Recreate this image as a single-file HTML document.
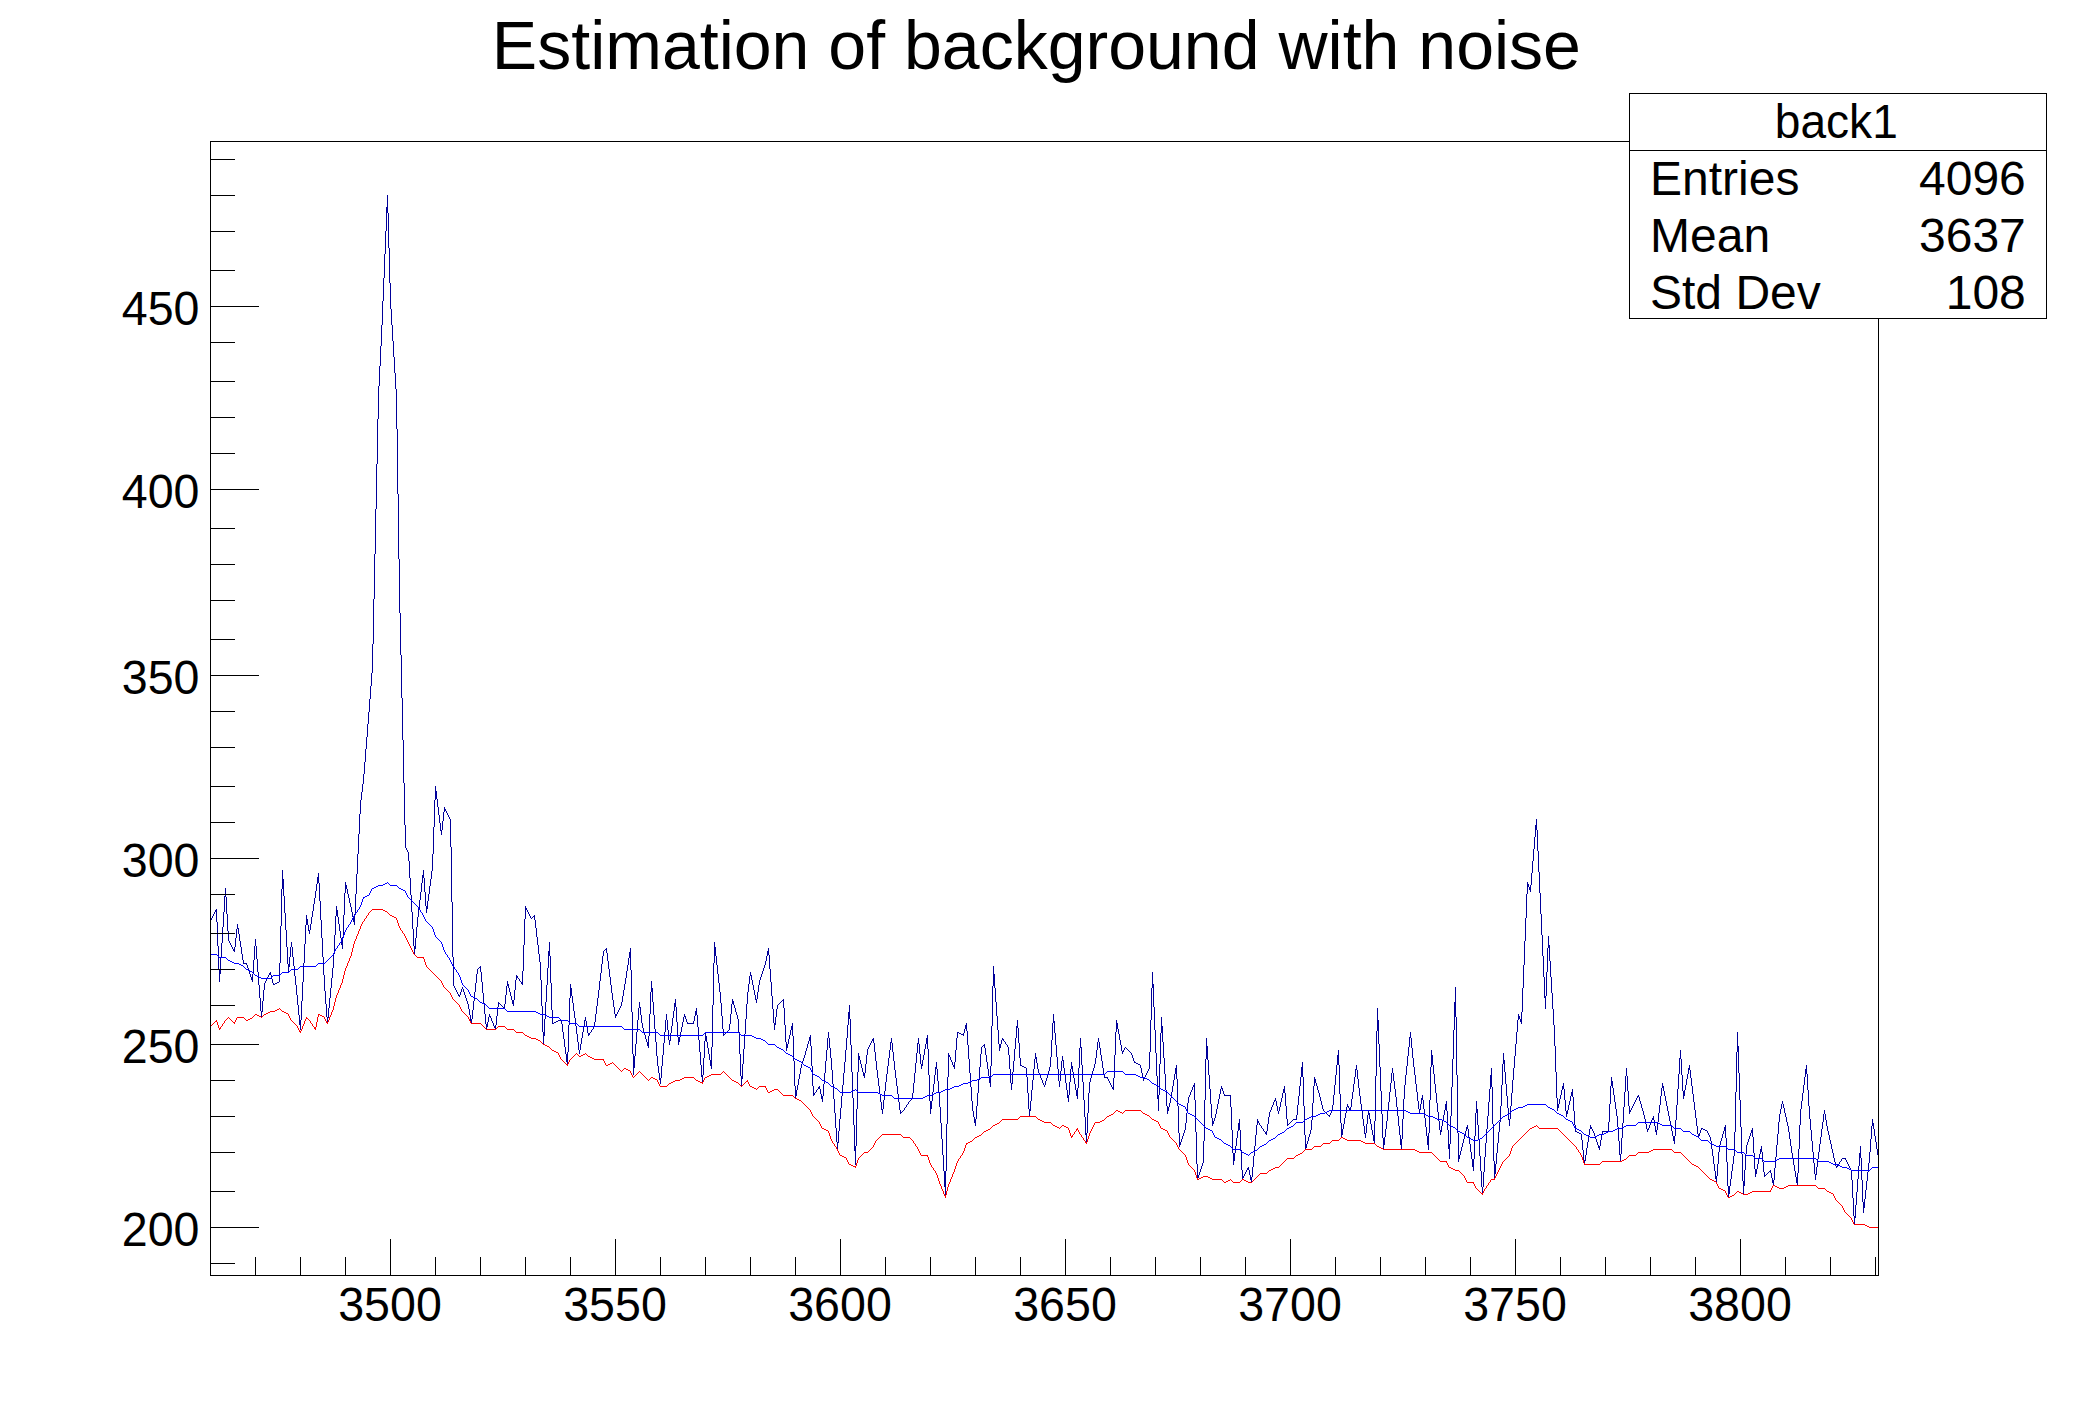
<!DOCTYPE html><html><head><meta charset="utf-8"><title>Estimation of background with noise</title>
<style>html,body{margin:0;padding:0;background:#fff}svg{display:block}text{font-family:"Liberation Sans",sans-serif;fill:#000}</style></head><body>
<svg width="2088" height="1416" viewBox="0 0 2088 1416">
<rect width="2088" height="1416" fill="#fff"/>
<path d="M450.5 819V847M1085.5 1117V1135M1159.5 1064V1095M1286.5 1106V1119M1737.5 1032V1052M384.5 254V278M1552.5 993V1009M1744.5 1170V1186M550.5 956V983M1400.5 1135V1145M300.5 1020V1030M770.5 969V982M1735.5 1092V1132M360.5 800V814M654.5 1015V1029M915.5 1063V1073M1256.5 1125V1135M934.5 1075V1084M1094.5 1064V1068M1342.5 1129V1135M1457.5 1075V1133M791.5 1026V1030M1355.5 1069V1077M992.5 986V1026M837.5 1142V1150M730.5 1014V1024M1432.5 1055V1065M1010.5 1069V1083M1626.5 1068V1076M471.5 1019V1024M366.5 737V749M302.5 982V1001M1816.5 1167V1175M1774.5 1168V1180M929.5 1075V1101M373.5 599V644M216.5 909V922M1047.5 1074V1078M1066.5 1083V1090M1517.5 1020V1032M744.5 1034V1049M1589.5 1129V1135M403.5 740V783M515.5 980V990M642.5 1023V1028M279.5 963V982M408.5 852V861M702.5 1075V1084M1487.5 1116V1129M1082.5 1065V1082M1679.5 1058V1074M1302.5 1062V1077M1739.5 1073V1100M1503.5 1053V1064M1059.5 1081V1087M1549.5 945V961M797.5 1085V1090M957.5 1032V1038M377.5 419V464M1117.5 1023V1029M1862.5 1180V1202M1383.5 1138V1150M1498.5 1132V1143M1658.5 1113V1122M371.5 673V686M1336.5 1065V1075M524.5 919V945M1556.5 1072V1098M1537.5 830V851M398.5 494V559M1690.5 1070V1078M1313.5 1086V1103M1399.5 1126V1135M769.5 955V969M1492.5 1087V1124M848.5 1012V1025M707.5 1042V1048M853.5 1098V1125M1857.5 1179V1192M971.5 1087V1101M267.5 977V979M1232.5 1130V1153M795.5 1086V1099M506.5 986V995M855.5 1146V1165M681.5 1027V1032M1089.5 1082V1093M786.5 1042V1051M357.5 854V874M388.5 213V248M417.5 917V927M598.5 990V998M1165.5 1074V1090M392.5 325V341M1404.5 1085V1099M1486.5 1129V1143M1646.5 1124V1129M457.5 992V994M364.5 762V774M880.5 1094V1102M1678.5 1074V1089M410.5 878V895M993.5 966V986M883.5 1100V1109M1741.5 1127V1154M841.5 1096V1108M1157.5 1076V1099M1699.5 1133V1136M1195.5 1100V1132M1410.5 1032V1038M1396.5 1097V1107M1864.5 1199V1208M475.5 983V992M1380.5 1067V1091M991.5 1026V1066M1077.5 1088V1099M1619.5 1141V1155M834.5 1099V1113M570.5 984V998M1389.5 1092V1102M341.5 938V945M280.5 926V963M984.5 1044V1048M1111.5 1085V1087M1493.5 1124V1161M238.5 928V934M706.5 1036V1042M1069.5 1082V1095M852.5 1072V1098M926.5 1038V1044M1088.5 1093V1113M1234.5 1153V1161M1496.5 1153V1164M664.5 1032V1043M1790.5 1139V1146M1831.5 1144V1149M535.5 920V928M447.5 813V815M581.5 1038V1044M218.5 946V970M259.5 985V998M947.5 1077V1124M1428.5 1133V1150M1084.5 1100V1117M1304.5 1106V1135M1152.5 972V988M1097.5 1042V1050M1584.5 1160V1165M1639.5 1097V1101M1551.5 977V993M945.5 1171V1195M549.5 942V956M898.5 1094V1102M1877.5 1149V1155M650.5 992V1014M956.5 1038V1050M376.5 464V509M359.5 814V834M345.5 882V893M653.5 1002V1015M1484.5 1157V1172M873.5 1038V1043M1525.5 918V941M551.5 983V1010M1599.5 1146V1150M1819.5 1144V1152M1194.5 1083V1100M399.5 559V613M380.5 346V366M327.5 1017V1024M1051.5 1040V1057M1474.5 1136V1159M1634.5 1102V1104M1458.5 1133V1162M1546.5 972V996M1532.5 861V873M1812.5 1141V1152M241.5 947V954M1030.5 1101V1111M460.5 992V995M262.5 1001V1012M826.5 1050V1061M597.5 998V1006M743.5 1049V1064M1455.5 987V1017M574.5 1011V1018M715.5 947V956M425.5 892V906M1738.5 1046V1073M631.5 970V1012M428.5 894V901M736.5 1012V1015M548.5 951V968M856.5 1109V1146M1131.5 1053V1055M694.5 1016V1021M1203.5 1141V1163M1277.5 1106V1111M1861.5 1158V1180M1115.5 1032V1055M358.5 834V854M344.5 893V915M1676.5 1105V1120M1863.5 1202V1213M836.5 1128V1142M435.5 786V800M569.5 998V1025M1541.5 914V935M1615.5 1102V1109M976.5 1106V1119M1009.5 1055V1069M1050.5 1057V1067M1573.5 1097V1111M401.5 655V698M1411.5 1038V1048M948.5 1053V1077M1509.5 1119V1126M1531.5 873V885M221.5 943V958M326.5 1004V1017M1231.5 1107V1130M1668.5 1111V1116M1754.5 1153V1169M854.5 1125V1151M1814.5 1163V1174M721.5 1003V1016M886.5 1074V1082M215.5 910V912M638.5 1008V1020M946.5 1124V1171M1252.5 1167V1177M402.5 698V740M641.5 1015V1023M407.5 850V852M701.5 1065V1077M742.5 1064V1079M1527.5 882V894M453.5 957V986M1444.5 1110V1115M1036.5 1057V1063M860.5 1060V1064M497.5 1007V1016M1154.5 1007V1030M1740.5 1100V1127M284.5 896V913M1156.5 1053V1076M1175.5 1068V1074M839.5 1119V1131M944.5 1171V1187M1689.5 1065V1070M1238.5 1123V1131M608.5 961V969M1513.5 1068V1080M1535.5 825V837M1196.5 1132V1164M1430.5 1067V1100M1149.5 1052V1069M337.5 910V917M1837.5 1165V1167M1566.5 1111V1117M1786.5 1117V1122M1450.5 1116V1144M378.5 386V419M1508.5 1108V1120M1522.5 988V1012M355.5 894V914M386.5 207V231M1045.5 1081V1085M1205.5 1059V1100M1339.5 1065V1094M1017.5 1020V1028M313.5 904V911M1526.5 894V918M1424.5 1109V1118M404.5 783V825M1061.5 1061V1071M1622.5 1123V1138M1300.5 1077V1086M749.5 976V984M1547.5 948V972M913.5 1083V1093M1054.5 1021V1033M1114.5 1055V1078M1656.5 1130V1135M1716.5 1176V1183M1452.5 1059V1087M1075.5 1084V1090M712.5 1005V1047M1209.5 1075V1089M288.5 964V973M670.5 1033V1041M482.5 982V993M1519.5 1016V1019M600.5 973V981M237.5 924V929M1505.5 1072V1084M1086.5 1133V1144M1466.5 1127V1131M258.5 972V985M445.5 809V811M1382.5 1114V1138M1401.5 1139V1150M843.5 1073V1085M1366.5 1124V1133M1621.5 1138V1154M655.5 1029V1042M452.5 902V957M1357.5 1070V1079M1866.5 1181V1190M1315.5 1079V1083M811.5 1046V1066M897.5 1086V1094M938.5 1081V1093M308.5 925V931M1334.5 1085V1095M1158.5 1095V1111M1375.5 1076V1121M1433.5 1065V1074M547.5 968V985M794.5 1061V1086M1391.5 1073V1083M1799.5 1125V1149M343.5 915V937M1174.5 1074V1080M1429.5 1100V1133M711.5 1047V1069M785.5 1025V1042M1482.5 1187V1195M1611.5 1077V1086M568.5 1025V1052M1671.5 1126V1131M1855.5 1205V1218M788.5 1039V1044M829.5 1038V1048M1734.5 1132V1156M400.5 613V655M1811.5 1130V1141M718.5 974V983M451.5 847V902M704.5 1041V1058M759.5 980V985M415.5 938V949M924.5 1049V1055M1204.5 1100V1141M579.5 1050V1054M1303.5 1077V1106M1000.5 1044V1048M1160.5 1033V1064M260.5 998V1011M771.5 982V996M1729.5 1186V1194M917.5 1043V1053M977.5 1093V1106M1720.5 1141V1145M713.5 963V1005M424.5 878V892M732.5 999V1004M1456.5 1017V1075M1736.5 1052V1092M397.5 429V494M473.5 1001V1010M440.5 823V831M383.5 278V301M546.5 985V1002M1859.5 1153V1166M1523.5 965V988M972.5 1101V1111M1206.5 1038V1059M810.5 1035V1046M1352.5 1092V1099M1875.5 1136V1142M567.5 1052V1066M1472.5 1159V1167M317.5 877V884M1488.5 1102V1116M662.5 1055V1066M1667.5 1106V1111M374.5 554V599M866.5 1055V1064M1449.5 1144V1159M1564.5 1089V1100M1555.5 1046V1072M1500.5 1106V1122M1586.5 1148V1155M1338.5 1050V1065M1379.5 1044V1067M1453.5 1030V1059M1585.5 1155V1161M1659.5 1105V1113M1015.5 1038V1049M652.5 988V1002M1079.5 1048V1068M1340.5 1094V1123M674.5 1003V1011M1298.5 1096V1105M849.5 1005V1019M954.5 1062V1069M1155.5 1030V1053M747.5 992V1004M893.5 1052V1061M1201.5 1166V1169M1798.5 1149V1173M953.5 1065V1067M387.5 195V213M328.5 1008V1018M851.5 1045V1072M634.5 1056V1068M975.5 1119V1126M419.5 900V909M1511.5 1093V1106M1533.5 849V861M1208.5 1060V1075M523.5 945V971M220.5 958V974M1680.5 1050V1059M544.5 1019V1036M714.5 942V963M1363.5 1119V1126M1853.5 1198V1216M411.5 895V912M824.5 1073V1084M254.5 946V960M414.5 946V955M1742.5 1154V1181M1420.5 1104V1110M1745.5 1154V1170M1101.5 1055V1061M1442.5 1121V1126M1557.5 1098V1111M1624.5 1092V1107M1643.5 1111V1115M858.5 1053V1072M1381.5 1091V1114M696.5 1008V1015M333.5 954V968M1554.5 1025V1046M1633.5 1104V1106M382.5 301V325M1872.5 1119V1126M772.5 996V1009M268.5 975V977M629.5 952V958M937.5 1069V1081M367.5 724V737M969.5 1059V1073M224.5 896V912M375.5 509V554M432.5 854V871M812.5 1066V1086M1813.5 1152V1163M1013.5 1061V1072M1510.5 1106V1119M710.5 1060V1066M784.5 1008V1025M335.5 916V935M481.5 972V982M1064.5 1068V1075M219.5 970V982M1733.5 1156V1164M1369.5 1113V1119M312.5 911V917M738.5 1019V1032M1362.5 1111V1119M332.5 968V978M1616.5 1109V1116M790.5 1030V1035M223.5 912V927M828.5 1032V1038M1723.5 1131V1134M480.5 966V972M1464.5 1135V1139M677.5 1022V1037M1177.5 1079V1106M593.5 1027V1029M271.5 975V979M609.5 969V977M850.5 1019V1045M1471.5 1152V1159M1065.5 1075V1083M651.5 981V992M1459.5 1155V1159M1553.5 1009V1025M1150.5 1020V1052M892.5 1043V1052M281.5 889V926M1870.5 1139V1152M789.5 1035V1039M1713.5 1156V1164M1803.5 1085V1093M1627.5 1076V1091M537.5 937V945M845.5 1050V1062M1662.5 1083V1088M514.5 990V1000M995.5 988V1002M439.5 815V823M442.5 821V830M287.5 947V964M1319.5 1093V1097M229.5 941V943M1395.5 1089V1097M421.5 883V892M305.5 925V944M434.5 800V827M928.5 1049V1075M1451.5 1087V1116M243.5 960V964M1470.5 1144V1152M349.5 898V903M261.5 1011V1018M1868.5 1163V1172M396.5 389V429M217.5 922V946M1122.5 1051V1054M1361.5 1104V1111M840.5 1108V1119M955.5 1050V1062M1134.5 1061V1063M323.5 957V975M1467.5 1125V1129M1145.5 1075V1077M1731.5 1171V1179M391.5 309V325M659.5 1073V1080M1443.5 1115V1121M362.5 784V792M1038.5 1069V1073M1244.5 1174V1176M941.5 1123V1139M894.5 1061V1070M1376.5 1031V1076M1439.5 1121V1130M368.5 712V724M222.5 927V943M1311.5 1120V1130M648.5 1036V1048M339.5 924V931M485.5 1014V1024M1494.5 1161V1180M1788.5 1126V1132M526.5 908V910M792.5 1023V1036M1697.5 1126V1134M630.5 948V970M693.5 1021V1024M813.5 1086V1096M1830.5 1140V1144M1144.5 1077V1079M354.5 914V925M1465.5 1131V1135M431.5 871V879M1377.5 1008V1031M885.5 1082V1091M1771.5 1173V1178M563.5 1032V1039M1501.5 1085V1106M1283.5 1089V1093M1417.5 1092V1101M899.5 1102V1110M1394.5 1081V1089M857.5 1072V1109M1776.5 1145V1157M1687.5 1074V1079M787.5 1044V1048M1489.5 1089V1102M1708.5 1133V1135M720.5 992V1003M1028.5 1093V1109M1188.5 1097V1103M752.5 980V985M390.5 283V309M1461.5 1147V1151M1240.5 1130V1150M1460.5 1151V1155M1276.5 1101V1106M329.5 998V1008M282.5 870V889M342.5 937V949M433.5 827V854M1271.5 1107V1110M541.5 980V1006M1446.5 1101V1111M859.5 1056V1060M430.5 879V886M1620.5 1154V1162M1694.5 1102V1110M835.5 1113V1128M613.5 1000V1007M632.5 1012V1054M1476.5 1101V1113M1636.5 1098V1100M1851.5 1170V1180M1835.5 1162V1166M731.5 1004V1014M1259.5 1123V1125M436.5 791V799M1515.5 1044V1056M895.5 1070V1078M684.5 1014V1017M1140.5 1065V1068M1207.5 1046V1060M311.5 917V924M1142.5 1073V1078M1186.5 1113V1123M1783.5 1104V1108M307.5 919V925M978.5 1080V1093M1112.5 1087V1089M1239.5 1119V1130M1151.5 988V1020M649.5 1014V1036M1695.5 1110V1118M602.5 956V964M1672.5 1131V1136M719.5 983V992M1040.5 1075V1078M1387.5 1111V1121M1681.5 1059V1075M1581.5 1134V1140M370.5 686V699M1440.5 1130V1135M1778.5 1122V1134M1172.5 1086V1092M1796.5 1177V1183M623.5 990V996M1748.5 1139V1142M521.5 982V984M1852.5 1180V1198M1502.5 1064V1085M882.5 1109V1114M1241.5 1150V1170M321.5 920V938M356.5 874V894M1002.5 1038V1040M1167.5 1106V1114M1282.5 1093V1098M803.5 1058V1061M939.5 1093V1107M1462.5 1143V1147M289.5 957V967M830.5 1048V1058M467.5 1001V1004M504.5 1004V1009M622.5 996V1002M1481.5 1171V1187M1034.5 1059V1069M1349.5 1108V1110M1249.5 1170V1175M1846.5 1160V1162M825.5 1061V1073M682.5 1022V1027M1849.5 1166V1168M1402.5 1119V1139M496.5 1016V1025M802.5 1061V1064M614.5 1007V1014M210.5 920V922M489.5 1014V1017M1237.5 1131V1138M1806.5 1065V1074M1795.5 1171V1177M587.5 1027V1033M1026.5 1068V1077M1406.5 1066V1075M1309.5 1134V1137M1341.5 1123V1138M582.5 1032V1038M697.5 1015V1027M1385.5 1129V1137M295.5 976V985M1179.5 1133V1147M807.5 1044V1048M239.5 934V941M1595.5 1136V1139M1359.5 1088V1096M871.5 1041V1043M1674.5 1136V1144M1572.5 1089V1097M1236.5 1138V1146M458.5 994V996M1280.5 1102V1107M232.5 947V949M875.5 1052V1061M1761.5 1146V1152M754.5 990V995M757.5 992V999M657.5 1056V1066M1821.5 1129V1137M1416.5 1084V1092M1351.5 1099V1107M1791.5 1146V1153M1210.5 1089V1104M981.5 1047V1054M805.5 1051V1055M1347.5 1104V1107M1847.5 1162V1164M740.5 1054V1076M1337.5 1055V1065M1423.5 1100V1109M1037.5 1063V1069M1763.5 1162V1172M673.5 1011V1018M1071.5 1062V1069M1628.5 1091V1106M888.5 1058V1066M538.5 945V954M617.5 1012V1014M923.5 1055V1060M800.5 1068V1074M1403.5 1099V1119M816.5 1090V1092M672.5 1018V1026M989.5 1076V1083M1709.5 1135V1137M1728.5 1186V1198M1692.5 1086V1094M965.5 1025V1029M808.5 1041V1044M1685.5 1085V1090M822.5 1096V1102M1055.5 1033V1045M1675.5 1120V1136M1350.5 1107V1111M1490.5 1075V1089M315.5 891V898M861.5 1064V1068M394.5 357V373M1661.5 1088V1096M733.5 1001V1005M409.5 861V878M318.5 873V883M1712.5 1149V1156M1368.5 1110V1115M921.5 1064V1069M1141.5 1068V1073M427.5 901V909M304.5 944V963M1730.5 1179V1186M1251.5 1177V1183M1823.5 1114V1122M1434.5 1074V1084M936.5 1062V1069M270.5 972V975M575.5 1018V1026M492.5 1021V1023M1751.5 1130V1133M320.5 901V920M1827.5 1126V1131M820.5 1089V1094M773.5 1009V1023M286.5 930V947M426.5 906V913M1170.5 1098V1103M1591.5 1127V1129M1255.5 1135V1146M1067.5 1090V1098M1306.5 1144V1148M739.5 1032V1054M1118.5 1029V1034M1053.5 1014V1023M463.5 989V992M1435.5 1084V1093M1750.5 1133V1136M1682.5 1075V1091M1095.5 1058V1064M1018.5 1028V1043M974.5 1117V1123M1409.5 1037V1047M316.5 884V891M319.5 883V901M1784.5 1108V1113M1247.5 1168V1170M1567.5 1110V1114M620.5 1006V1008M1242.5 1170V1180M1677.5 1089V1105M1332.5 1105V1111M666.5 1014V1020M303.5 963V982M793.5 1036V1061M1631.5 1108V1110M1124.5 1048V1050M996.5 1002V1016M1087.5 1113V1133M1425.5 1118V1127M876.5 1061V1070M1431.5 1050V1067M1147.5 1071V1073M1108.5 1079V1081M379.5 366V386M353.5 917V922M1528.5 884V887M1623.5 1107V1123M1364.5 1126V1134M1176.5 1065V1079M1596.5 1139V1142M1003.5 1039V1041M1191.5 1090V1092M1787.5 1122V1126M1873.5 1123V1129M1588.5 1135V1142M1563.5 1083V1089M679.5 1037V1042M753.5 985V990M1181.5 1139V1142M1171.5 1092V1098M446.5 811V813M498.5 1002V1007M449.5 817V819M296.5 985V995M509.5 988V992M1062.5 1056V1061M564.5 1039V1047M1587.5 1142V1148M441.5 830V835M1296.5 1115V1120M420.5 892V900M1330.5 1113V1115M985.5 1048V1055M1367.5 1115V1124M756.5 999V1003M527.5 910V912M1746.5 1145V1154M703.5 1058V1075M1758.5 1159V1164M1617.5 1116V1127M1772.5 1178V1183M1644.5 1115V1119M1184.5 1130V1133M591.5 1030V1032M265.5 981V983M966.5 1023V1031M1521.5 1012V1024M1060.5 1071V1081M1602.5 1131V1134M437.5 799V807M1373.5 1135V1141M643.5 1028V1032M338.5 917V924M461.5 989V992M699.5 1040V1052M454.5 986V988M1032.5 1080V1090M1560.5 1095V1099M927.5 1035V1049M1832.5 1149V1153M1312.5 1103V1120M1169.5 1103V1107M1168.5 1107V1111M1388.5 1102V1111M1250.5 1175V1180M1640.5 1101V1104M413.5 929V946M1756.5 1169V1174M513.5 1000V1006M242.5 954V960M1809.5 1106V1119M716.5 956V965M922.5 1060V1066M1445.5 1104V1110M737.5 1015V1019M249.5 971V974M952.5 1062V1065M676.5 1007V1022M412.5 912V929M530.5 916V918M627.5 965V971M389.5 248V283M1421.5 1098V1104M1224.5 1094V1096M1360.5 1096V1104M675.5 999V1007M881.5 1102V1110M916.5 1053V1063M890.5 1042V1050M1841.5 1159V1161M594.5 1022V1027M767.5 951V956M832.5 1070V1084M1198.5 1175V1178M1211.5 1104V1118M1808.5 1090V1106M1214.5 1118V1121M1267.5 1124V1131M1153.5 984V1007M1817.5 1159V1167M762.5 971V974M1468.5 1129V1137M213.5 914V916M660.5 1078V1084M1193.5 1085V1087M1090.5 1078V1082M625.5 978V984M1504.5 1060V1072M884.5 1091V1100M1222.5 1088V1091M1865.5 1190V1199M1078.5 1068V1088M1807.5 1074V1090M1187.5 1103V1113M291.5 942V947M1793.5 1159V1165M1320.5 1097V1101M615.5 1014V1018M656.5 1042V1056M633.5 1054V1075M765.5 961V965M1732.5 1164V1171M1253.5 1156V1167M1263.5 1129V1131M1093.5 1068V1071M1412.5 1048V1058M1392.5 1068V1073M1815.5 1174V1180M1850.5 1168V1170M540.5 962V980M584.5 1020V1026M864.5 1073V1078M1301.5 1067V1077M1727.5 1162V1186M1116.5 1020V1032M637.5 1020V1032M1454.5 1002V1030M1178.5 1106V1133M493.5 1023V1026M1076.5 1090V1096M1543.5 956V977M967.5 1031V1045M309.5 930V934M474.5 992V1001M330.5 988V998M1538.5 851V872M1353.5 1084V1092M1691.5 1078V1086M930.5 1101V1114M233.5 949V951M1436.5 1093V1103M214.5 912V914M1848.5 1164V1166M1019.5 1043V1058M334.5 935V954M1413.5 1058V1067M1542.5 935V956M746.5 1004V1019M1651.5 1120V1123M1102.5 1061V1068M1822.5 1122V1129M1343.5 1124V1129M776.5 1009V1017M285.5 913V930M1109.5 1081V1083M1370.5 1119V1124M1590.5 1125V1129M1405.5 1075V1085M1479.5 1140V1156M1673.5 1136V1141M646.5 1039V1042M1044.5 1085V1087M231.5 945V947M1162.5 1026V1042M443.5 812V821M1869.5 1152V1163M297.5 995V1005M429.5 886V894M1514.5 1056V1068M774.5 1023V1030M1012.5 1072V1084M1688.5 1068V1074M542.5 1006V1032M1042.5 1080V1083M1618.5 1127V1141M588.5 1033V1036M764.5 965V968M1789.5 1132V1139M534.5 915V920M925.5 1044V1049M1011.5 1083V1090M1161.5 1017V1033M1664.5 1091V1096M385.5 231V254M1860.5 1146V1158M1820.5 1137V1144M1029.5 1109V1117M700.5 1052V1065M994.5 974V988M283.5 879V896M1397.5 1107V1116M545.5 1002V1019M980.5 1054V1067M1033.5 1069V1080M487.5 1022V1027M405.5 825V848M896.5 1078V1086M1593.5 1131V1133M1384.5 1137V1145M1317.5 1086V1090M1597.5 1142V1145M1173.5 1080V1086M1696.5 1118V1126M870.5 1043V1045M847.5 1025V1038M1608.5 1122V1132M565.5 1047V1054M571.5 988V996M1759.5 1154V1159M949.5 1055V1057M263.5 990V1001M483.5 993V1003M1506.5 1084V1096M510.5 992V996M422.5 875V883M1418.5 1101V1109M869.5 1045V1047M596.5 1006V1014M973.5 1111V1117M306.5 915V925M1653.5 1116V1120M912.5 1093V1099M963.5 1033V1036M1083.5 1082V1100M1524.5 941V965M1777.5 1134V1145M1333.5 1095V1105M240.5 941V947M708.5 1048V1054M1119.5 1034V1040M900.5 1110V1114M1719.5 1145V1152M661.5 1066V1078M635.5 1044V1056M1714.5 1164V1171M246.5 963V965M1797.5 1173V1186M372.5 644V673M669.5 1040V1045M722.5 1016V1029M1613.5 1088V1095M465.5 995V998M990.5 1066V1087M823.5 1084V1096M1520.5 1019V1022M346.5 885V889M1839.5 1162V1164M1212.5 1118V1126M1323.5 1109V1111M1762.5 1152V1162M628.5 958V965M1269.5 1112V1117M1792.5 1153V1159M1530.5 885V892M667.5 1020V1030M576.5 1026V1034M891.5 1038V1043M236.5 929V938M1374.5 1121V1144M1189.5 1095V1097M1080.5 1038V1048M1219.5 1094V1099M469.5 1009V1015M1272.5 1105V1107M1610.5 1086V1104M640.5 1007V1015M1163.5 1042V1058M393.5 341V357M1781.5 1104V1109M1637.5 1096V1098M552.5 1010V1024M1878.5 1155V1159M253.5 960V974M519.5 979V981M1426.5 1127V1136M877.5 1070V1078M577.5 1034V1042M507.5 981V986M933.5 1084V1092M1574.5 1111V1125M842.5 1085V1096M1365.5 1133V1138M1874.5 1129V1136M1571.5 1092V1096M1749.5 1136V1139M522.5 971V985M543.5 1032V1045M1448.5 1130V1149M1052.5 1023V1040M1217.5 1104V1109M1346.5 1107V1113M256.5 946V959M1802.5 1093V1101M1020.5 1058V1066M490.5 1016V1018M1570.5 1096V1101M1473.5 1159V1171M986.5 1055V1062M683.5 1017V1022M1371.5 1124V1130M1824.5 1110V1114M1345.5 1113V1118M211.5 918V920M1536.5 819V830M1398.5 1116V1126M1257.5 1119V1125M1407.5 1056V1066M1310.5 1130V1134M1645.5 1119V1124M456.5 990V992M678.5 1037V1045M611.5 985V993M1099.5 1042V1048M872.5 1039V1041M647.5 1042V1046M298.5 1005V1015M1726.5 1138V1162M1582.5 1140V1150M1512.5 1080V1093M1753.5 1137V1153M1568.5 1105V1110M406.5 848V850M225.5 888V897M607.5 953V961M484.5 1003V1014M361.5 792V800M350.5 903V907M940.5 1107V1123M1775.5 1157V1168M264.5 983V990M1475.5 1113V1136M1810.5 1119V1130M444.5 807V812M1826.5 1120V1126M1743.5 1181V1195M227.5 914V931M1858.5 1166V1179M1192.5 1087V1090M418.5 909V917M1717.5 1164V1176M324.5 975V991M365.5 749V762M1752.5 1128V1137M680.5 1032V1037M1441.5 1126V1132M1275.5 1098V1101M942.5 1139V1155M1497.5 1143V1153M1856.5 1192V1205M416.5 927V938M1559.5 1099V1104M1316.5 1083V1086M906.5 1105V1107M314.5 898V904M1642.5 1108V1111M1378.5 1020V1044M230.5 943V945M1274.5 1100V1102M970.5 1073V1087M1091.5 1075V1078M336.5 906V916M1447.5 1111V1130M1185.5 1123V1130M671.5 1026V1033M1648.5 1128V1130M1518.5 1014V1020M1016.5 1026V1038M1483.5 1172V1187M1469.5 1137V1144M1166.5 1090V1106M1540.5 893V914M511.5 996V1000M1390.5 1083V1092M920.5 1054V1064M1561.5 1090V1095M1299.5 1086V1096M1133.5 1058V1061M950.5 1057V1060M603.5 951V956M621.5 1002V1006M292.5 947V957M1438.5 1112V1121M1794.5 1165V1171M586.5 1021V1027M322.5 938V957M257.5 959V972M1183.5 1133V1136M472.5 1010V1019M381.5 325V346M1539.5 872V893M685.5 1016V1019M750.5 972V976M1393.5 1073V1081M914.5 1073V1083M1120.5 1040V1045M1182.5 1136V1139M819.5 1086V1089M1235.5 1146V1153M668.5 1030V1040M1027.5 1077V1093M580.5 1044V1050M1485.5 1143V1157M698.5 1027V1040M918.5 1038V1044M1612.5 1081V1088M464.5 992V995M1665.5 1096V1101M293.5 957V966M1258.5 1121V1123M887.5 1066V1074M1081.5 1047V1065M561.5 1020V1024M299.5 1015V1025M1558.5 1104V1108M1164.5 1058V1074M644.5 1032V1035M1414.5 1067V1075M266.5 979V981M935.5 1067V1075M1867.5 1172V1181M1550.5 961V977M1800.5 1109V1125M798.5 1079V1085M867.5 1049V1055M1804.5 1077V1085M943.5 1155V1171M1348.5 1106V1108M862.5 1068V1072M347.5 889V894M1056.5 1045V1057M1836.5 1166V1168M1544.5 977V998M468.5 1004V1009M665.5 1020V1032M301.5 1001V1020M395.5 373V389M1356.5 1065V1070M528.5 912V914M745.5 1019V1034M1722.5 1134V1138M1463.5 1139V1143M796.5 1090V1096M1654.5 1120V1126M1657.5 1122V1130M1254.5 1146V1156M1650.5 1123V1125M1710.5 1137V1141M476.5 974V983M1478.5 1125V1140M814.5 1093V1095M1600.5 1140V1146M1721.5 1138V1141M1408.5 1047V1056M709.5 1054V1060M827.5 1038V1050M695.5 1011V1016M363.5 774V784M878.5 1078V1086M1199.5 1172V1175M1072.5 1066V1072M1495.5 1164V1174M273.5 983V985M226.5 897V914M1534.5 837V849M1724.5 1127V1131M1529.5 887V890M997.5 1016V1030M1305.5 1135V1150M1321.5 1101V1105M610.5 977V985M325.5 991V1004M1230.5 1095V1107M1871.5 1126V1139M566.5 1054V1062M1202.5 1163V1166M572.5 996V1003M1507.5 1096V1108M987.5 1062V1069M1516.5 1032V1044M1419.5 1109V1114M491.5 1018V1021M1070.5 1069V1082M1048.5 1071V1074M865.5 1064V1073M1773.5 1180V1186M340.5 931V938M1828.5 1131V1135M1031.5 1090V1101M846.5 1038V1050M1635.5 1100V1102M573.5 1003V1011M1096.5 1050V1058M1035.5 1053V1059M686.5 1019V1022M1785.5 1113V1117M1641.5 1104V1108M1477.5 1109V1125M1715.5 1171V1179M1386.5 1121V1129M1261.5 1126V1128M1057.5 1057V1069M250.5 974V977M1545.5 996V1009M1113.5 1078V1090M1284.5 1086V1093M599.5 981V990M508.5 984V988M723.5 1029V1036M455.5 988V990M1614.5 1095V1102M889.5 1050V1058M1609.5 1104V1122M1063.5 1060V1068M494.5 1026V1028M1132.5 1055V1058M831.5 1058V1070M1146.5 1073V1075M729.5 1024V1030M585.5 1017V1021M1825.5 1114V1120M1779.5 1114V1122M1335.5 1075V1085M624.5 984V990M833.5 1084V1099M369.5 699V712M663.5 1043V1055M998.5 1030V1044M290.5 947V957M1281.5 1098V1102M505.5 995V1004M931.5 1101V1109M470.5 1015V1021M618.5 1010V1012M741.5 1076V1087M768.5 948V955M583.5 1026V1032M539.5 954V962M351.5 907V912M516.5 975V980M636.5 1032V1044M525.5 906V919M1427.5 1136V1145M578.5 1042V1050M1575.5 1125V1132M1223.5 1091V1094M1279.5 1107V1111M1693.5 1094V1102M1297.5 1105V1115M1197.5 1164V1180M968.5 1045V1059M801.5 1064V1068M639.5 1002V1008M1074.5 1078V1084M1278.5 1111V1114M1308.5 1137V1141M1669.5 1116V1121M1354.5 1077V1084M1307.5 1141V1144M612.5 993V1000M1638.5 1095V1097M1491.5 1068V1087M804.5 1055V1058M1068.5 1095V1102M619.5 1008V1010M1100.5 1048V1055M348.5 894V898M1480.5 1156V1171M748.5 984V992M1630.5 1110V1112M1123.5 1050V1052M799.5 1074V1079M1583.5 1150V1160M1683.5 1091V1099M658.5 1066V1073M1757.5 1164V1169M1854.5 1216V1225M838.5 1131V1143M1655.5 1126V1132M1148.5 1069V1071M1805.5 1069V1077M1629.5 1106V1114M844.5 1062V1073M1180.5 1142V1145M536.5 928V937M228.5 931V941M751.5 975V980M272.5 979V983M1686.5 1079V1085M806.5 1048V1051M1625.5 1076V1092M1014.5 1049V1061M1755.5 1169V1177M477.5 969V974M979.5 1067V1080M310.5 924V930M1039.5 1073V1075M331.5 978V988M1043.5 1083V1085M1698.5 1134V1138M705.5 1032V1041M1684.5 1090V1096M1725.5 1125V1138M1834.5 1158V1162M1285.5 1093V1106M459.5 995V997M1782.5 1101V1104M1565.5 1100V1111M1248.5 1167V1170M1845.5 1158V1160M595.5 1014V1022M863.5 1072V1076M717.5 965V974M1499.5 1122V1132M626.5 971V978M1314.5 1077V1086M1594.5 1133V1136M1318.5 1090V1093M874.5 1043V1052M1829.5 1135V1140M1121.5 1045V1051M1218.5 1099V1104M1718.5 1152V1164M1780.5 1109V1114M919.5 1044V1054M1666.5 1101V1106M294.5 966V976M1058.5 1069V1081M606.5 948V953M562.5 1024V1032M212.5 916V918M601.5 964V973M1415.5 1075V1084M1422.5 1095V1100M1216.5 1109V1114M1008.5 1047V1055M1215.5 1114V1118M1701.5 1128V1130M247.5 965V968M1143.5 1078V1081M1601.5 1134V1140M423.5 870V878M462.5 987V989M235.5 938V947M758.5 985V992M999.5 1044V1051M1700.5 1130V1133M1711.5 1141V1149M1098.5 1038V1042M1200.5 1169V1172M783.5 999V1008M234.5 947V952M766.5 956V961M1632.5 1106V1108M1213.5 1121V1124M1266.5 1131V1135M352.5 912V917M252.5 974V982M775.5 1017V1025M1548.5 936V948M1437.5 1103V1112M761.5 974V977M1046.5 1078V1081M1358.5 1079V1088M879.5 1086V1094M1073.5 1072V1078M932.5 1092V1101M1649.5 1125V1128M821.5 1094V1099M1876.5 1142V1149M760.5 977V980M1233.5 1153V1165M1001.5 1040V1044M1818.5 1152V1159M1801.5 1101V1109M1322.5 1105V1109M255.5 939V946M755.5 995V1000M1660.5 1096V1105M1049.5 1067V1071M1764.5 1172V1177M988.5 1069V1076M1344.5 1118V1124M763.5 968V971M616.5 1014V1016M734.5 1005V1008M248.5 968V971M486.5 1024V1030M1104.5 1074V1078M1372.5 1130V1135M1747.5 1142V1145M438.5 807V815M904.5 1108V1110M868.5 1047V1049M1833.5 1153V1158M269.5 973V975M1652.5 1118V1120M488.5 1017V1022M1670.5 1121V1126M1760.5 1149V1154M1246.5 1170V1172M1007.5 1045V1047M1245.5 1172V1174M1107.5 1077V1079M1005.5 1042V1044M512.5 1000V1004M1329.5 1115V1117M951.5 1060V1062M1268.5 1117V1124M448.5 815V817M589.5 1033V1035M809.5 1037V1041M1270.5 1110V1112M645.5 1035V1039M1221.5 1086V1089M1103.5 1068V1074M964.5 1029V1033M1110.5 1083V1085M1220.5 1089V1094M1287.5 1119V1126M495.5 1025V1030M1647.5 1129V1132M529.5 914V916M1663.5 1086V1091M1770.5 1170V1173M1265.5 1132V1134M1598.5 1145V1148M1190.5 1092V1095M1273.5 1102V1105M1569.5 1101V1105M1041.5 1078V1080M777.5 1005V1009M735.5 1008V1012M1707.5 1131V1133M1331.5 1111V1113M1092.5 1071V1075M687.5 1022V1024M1592.5 1129V1131M818.5 1087V1089M251.5 977V980M908.5 1102V1104M466.5 998V1001M1562.5 1086V1090M517.5 976V978M1243.5 1176V1178M1293 1119.5H1296M553 1023.5H554M688 1023.5H693M503 1007.5H504M590 1032.5H591M726 1032.5H727M958 1032.5H959M275 983.5H277M1838 1164.5H1839M1105 1077.5H1107M1024 1067.5H1026M1225 1095.5H1230M1579 1133.5H1581M725 1033.5H726M959 1033.5H961M277 982.5H279M1130 1052.5H1131M1138 1064.5H1140M782 1000.5H783M1126 1048.5H1127M554 1022.5H556M1705 1130.5H1707M501 1005.5H502M244 963.5H246M1021 1065.5H1022M901 1112.5H902M1325 1112.5H1326M902 1111.5H903M1324 1111.5H1325M982 1046.5H983M1264 1131.5H1265M1576 1131.5H1577M1603 1131.5H1608M1022 1066.5H1024M556 1021.5H558M1135 1062.5H1136M558 1020.5H561M520 981.5H521M1128 1050.5H1129M479 967.5H480M1577 1132.5H1579M1840 1161.5H1841M478 968.5H479M1136 1063.5H1138M815 1092.5H816M1703 1129.5H1705M592 1029.5H593M1260 1125.5H1261M1006 1044.5H1007M531 918.5H532M905 1107.5H906M907 1104.5H908M605 949.5H606M274 984.5H275M780 1002.5H781M781 1001.5H782M604 950.5H605M500 1004.5H501M778 1004.5H779M499 1003.5H500M779 1003.5H780M1768 1172.5H1769M1769 1171.5H1770M724 1034.5H725M961 1034.5H963M1842 1158.5H1845M1004 1041.5H1005M1326 1113.5H1327M1292 1120.5H1293M1262 1128.5H1263M1702 1128.5H1703M817 1089.5H818M1766 1174.5H1767M1327 1114.5H1328M911 1099.5H912M1291 1121.5H1292M909 1101.5H910M1289 1123.5H1290M1290 1122.5H1291M1328 1115.5H1329M1288 1124.5H1289M1129 1051.5H1130M533 916.5H534M728 1030.5H729M1125 1047.5H1126M532 917.5H533M1767 1173.5H1768M903 1110.5H904M983 1045.5H984M727 1031.5H728M1765 1175.5H1766M910 1100.5H911M502 1006.5H503M1127 1049.5H1128M518 978.5H519" fill="none" stroke="#000099" stroke-width="1" shape-rendering="crispEdges"/>
<path d="M364.5 919V921M353.5 944V948M217.5 1022V1025M954.5 1169V1172M360.5 926V929M930.5 1163V1165M1473.5 1182V1184M339.5 988V990M931.5 1165V1167M1474.5 1184V1186M1466.5 1180V1182M1196.5 1175V1178M412.5 950V952M424.5 959V962M958.5 1159V1161M1717.5 1184V1186M1091.5 1129V1131M821.5 1126V1128M344.5 971V975M1509.5 1154V1156M304.5 1021V1024M351.5 952V956M945.5 1195V1198M765.5 1086V1088M1079.5 1132V1134M359.5 929V931M603.5 1059V1061M1581.5 1155V1157M1185.5 1155V1157M338.5 990V993M1500.5 1166V1168M405.5 936V938M948.5 1184V1187M335.5 998V1002M957.5 1161V1163M343.5 975V979M342.5 979V983M828.5 1131V1133M459.5 1005V1007M460.5 1007V1009M1488.5 1183V1185M219.5 1028V1030M329.5 1017V1020M929.5 1160V1163M298.5 1028V1030M704.5 1078V1080M299.5 1030V1032M1833.5 1194V1196M1071.5 1136V1138M1843.5 1208V1210M347.5 963V966M947.5 1187V1191M1195.5 1172V1175M234.5 1022V1024M940.5 1184V1186M1495.5 1176V1178M354.5 941V944M366.5 916V918M956.5 1163V1166M955.5 1166V1169M222.5 1024V1026M1078.5 1130V1132M567.5 1064V1066M857.5 1160V1163M1582.5 1157V1160M703.5 1080V1082M1510.5 1151V1154M946.5 1191V1195M1494.5 1178V1180M966.5 1143V1145M341.5 983V985M951.5 1177V1179M1448.5 1165V1167M657.5 1080V1082M938.5 1178V1181M939.5 1181V1184M443.5 985V987M315.5 1027V1030M1088.5 1136V1139M332.5 1010V1012M913.5 1141V1143M962.5 1153V1155M1197.5 1178V1180M413.5 952V954M632.5 1075V1077M858.5 1158V1160M397.5 920V923M832.5 1141V1143M288.5 1014V1016M1076.5 1129V1131M1087.5 1139V1142M836.5 1147V1149M766.5 1088V1090M1188.5 1163V1165M658.5 1082V1084M659.5 1084V1086M235.5 1020V1022M368.5 913V915M441.5 981V983M216.5 1020V1022M965.5 1145V1148M915.5 1144V1146M303.5 1024V1026M350.5 956V958M918.5 1149V1151M470.5 1021V1023M1483.5 1191V1193M1475.5 1186V1188M1465.5 1178V1180M933.5 1168V1170M1094.5 1123V1125M1772.5 1186V1188M411.5 948V950M1844.5 1210V1212M426.5 965V967M820.5 1124V1126M834.5 1144V1146M396.5 918V920M767.5 1090V1092M838.5 1151V1153M1583.5 1160V1163M1482.5 1193V1195M1187.5 1160V1163M407.5 940V942M1771.5 1188V1190M461.5 1009V1011M1502.5 1162V1164M340.5 985V988M950.5 1179V1182M935.5 1171V1173M324.5 1017V1019M1835.5 1198V1200M425.5 962V965M352.5 948V952M558.5 1053V1055M468.5 1017V1019M1501.5 1164V1166M409.5 944V946M406.5 938V940M356.5 936V939M316.5 1022V1027M829.5 1133V1136M1068.5 1128V1130M326.5 1021V1023M1512.5 1146V1148M355.5 939V941M810.5 1110V1112M334.5 1002V1006M1716.5 1182V1184M1177.5 1145V1147M346.5 966V968M1511.5 1148V1151M1090.5 1131V1133M1726.5 1193V1195M362.5 922V924M1158.5 1122V1124M345.5 968V971M1081.5 1135V1137M604.5 1061V1063M218.5 1025V1028M1176.5 1143V1145M917.5 1147V1149M928.5 1157V1160M748.5 1082V1084M1498.5 1170V1172M1725.5 1191V1193M942.5 1189V1191M450.5 993V995M875.5 1141V1143M331.5 1012V1015M398.5 923V926M289.5 1016V1018M837.5 1149V1151M1584.5 1163V1165M949.5 1182V1184M702.5 1082V1084M1852.5 1220V1222M224.5 1021V1023M569.5 1060V1062M220.5 1027V1029M874.5 1143V1145M927.5 1155V1157M919.5 1151V1153M747.5 1080V1082M937.5 1175V1178M568.5 1062V1064M952.5 1174V1177M964.5 1148V1151M873.5 1145V1147M839.5 1153V1155M318.5 1014V1017M408.5 942V944M1851.5 1218V1220M1089.5 1133V1136M333.5 1006V1010M310.5 1021V1023M831.5 1139V1141M358.5 931V934M936.5 1173V1175M325.5 1019V1021M337.5 993V995M305.5 1019V1021M812.5 1114V1116M1718.5 1186V1188M856.5 1163V1166M559.5 1055V1057M1486.5 1186V1188M349.5 958V961M328.5 1020V1022M1842.5 1206V1208M1497.5 1172V1174M336.5 995V998M312.5 1024V1026M1160.5 1126V1128M847.5 1160V1162M1069.5 1130V1133M1072.5 1135V1137M1834.5 1196V1198M327.5 1022V1024M1496.5 1174V1176M941.5 1186V1189M1770.5 1190V1192M953.5 1172V1174M1083.5 1138V1140M1178.5 1147V1149M944.5 1194V1196M1727.5 1195V1197M314.5 1027V1029M1576.5 1147V1149M1159.5 1124V1126M846.5 1158V1160M400.5 928V930M404.5 934V936M960.5 1156V1158M306.5 1017V1019M605.5 1063V1065M1085.5 1141V1143M1074.5 1132V1134M963.5 1151V1153M1194.5 1170V1172M317.5 1017V1022M1490.5 1180V1182M451.5 995V997M1077.5 1128V1130M1578.5 1150V1152M290.5 1018V1020M236.5 1018V1020M1853.5 1222V1224M630.5 1071V1073M1167.5 1131V1133M855.5 1166V1168M1484.5 1189V1191M1447.5 1163V1165M1169.5 1135V1137M1086.5 1142V1144M330.5 1015V1017M1070.5 1133V1136M943.5 1191V1194M560.5 1057V1059M469.5 1019V1021M302.5 1026V1029M1464.5 1176V1178M357.5 934V936M410.5 946V948M1093.5 1125V1127M819.5 1122V1124M830.5 1136V1139M848.5 1162V1164M1186.5 1157V1160M301.5 1029V1031M399.5 926V928M402.5 931V933M348.5 961V963M1092.5 1127V1129M811.5 1112V1114M297.5 1026V1028M300.5 1031V1033M920.5 1153V1155M423.5 957V959M452.5 997V999M1580.5 1153V1155M1499.5 1168V1170M749.5 1084V1086M1446.5 1161V1163M631.5 1073V1075M1168.5 1133V1135M361.5 924V926M442.5 983V985M486 1029.5H496M507 1029.5H514M826 1130.5H828M986 1130.5H988M1165 1130.5H1167M1528 1130.5H1529M1559 1130.5H1560M869 1150.5H870M1180 1150.5H1181M1304 1150.5H1305M1415 1150.5H1417M1651 1150.5H1653M1672 1150.5H1673M1487 1185.5H1488M1773 1185.5H1775M1788 1185.5H1816M868 1151.5H869M1181 1151.5H1182M1303 1151.5H1304M1417 1151.5H1419M1649 1151.5H1651M1673 1151.5H1674M636 1074.5H637M642 1074.5H643M711 1074.5H721M726 1074.5H727M457 1003.5H458M1321 1145.5H1322M1376 1145.5H1377M1513 1145.5H1514M1574 1145.5H1575M824 1129.5H826M988 1129.5H990M1163 1129.5H1165M1529 1129.5H1530M1558 1129.5H1559M813 1116.5H814M1020 1116.5H1036M1107 1116.5H1109M1149 1116.5H1150M564 1062.5H565M612 1062.5H613M213 1023.5H214M223 1023.5H224M294 1023.5H295M311 1023.5H312M471 1023.5H481M371 910.5H372M383 910.5H385M660 1086.5H667M741 1086.5H742M750 1086.5H752M759 1086.5H765M870 1149.5H871M1179 1149.5H1180M1305 1149.5H1312M1383 1149.5H1415M1577 1149.5H1578M1653 1149.5H1672M524 1034.5H525M1222 1180.5H1223M1228 1180.5H1230M1231 1180.5H1232M1241 1180.5H1242M1244 1180.5H1246M1253 1180.5H1254M1712 1180.5H1714M266 1013.5H268M286 1013.5H288M464 1013.5H465M877 1139.5H878M911 1139.5H912M973 1139.5H974M1172 1139.5H1173M1339 1139.5H1340M1345 1139.5H1347M1519 1139.5H1520M1568 1139.5H1569M1116 1110.5H1118M1125 1110.5H1141M816 1119.5H817M1002 1119.5H1018M1038 1119.5H1040M1104 1119.5H1105M1152 1119.5H1154M1477 1189.5H1478M1721 1189.5H1723M1825 1189.5H1826M844 1157.5H846M859 1157.5H860M1294 1157.5H1295M1436 1157.5H1437M1507 1157.5H1508M1627 1157.5H1628M1685 1157.5H1686M934 1170.5H935M1269 1170.5H1271M1455 1170.5H1459M1701 1170.5H1702M1476 1188.5H1477M1485 1188.5H1486M1719 1188.5H1721M1779 1188.5H1784M1818 1188.5H1825M270 1011.5H275M282 1011.5H284M462 1011.5H463M1845 1212.5H1846M882 1134.5H901M981 1134.5H982M1073 1134.5H1074M1080 1134.5H1081M1524 1134.5H1525M1563 1134.5H1564M416 956.5H417M638 1072.5H639M640 1072.5H641M722 1072.5H723M724 1072.5H725M818 1121.5H819M1000 1121.5H1001M1042 1121.5H1044M1100 1121.5H1102M1156 1121.5H1158M1479 1191.5H1480M1737 1191.5H1739M1752 1191.5H1770M1827 1191.5H1829M618 1068.5H619M624 1068.5H626M538 1040.5H540M1203 1176.5H1208M1257 1176.5H1258M1707 1176.5H1708M822 1128.5H824M990 1128.5H991M1059 1128.5H1060M1161 1128.5H1163M1530 1128.5H1532M1539 1128.5H1558M1198 1179.5H1199M1212 1179.5H1222M1230 1179.5H1231M1242 1179.5H1244M1254 1179.5H1255M1491 1179.5H1494M1710 1179.5H1712M879 1137.5H880M903 1137.5H910M975 1137.5H977M1082 1137.5H1083M1170 1137.5H1171M1341 1137.5H1343M1521 1137.5H1522M1566 1137.5H1567M840 1155.5H842M861 1155.5H862M921 1155.5H927M961 1155.5H962M1296 1155.5H1298M1434 1155.5H1435M1629 1155.5H1636M1683 1155.5H1684M1867 1226.5H1869M268 1012.5H270M284 1012.5H286M463 1012.5H464M1114 1112.5H1115M1120 1112.5H1122M1123 1112.5H1124M1142 1112.5H1143M968 1142.5H970M1175 1142.5H1176M1330 1142.5H1331M1363 1142.5H1365M1516 1142.5H1517M1571 1142.5H1572M647 1079.5H648M649 1079.5H650M655 1079.5H657M680 1079.5H682M695 1079.5H696M731 1079.5H732M999 1122.5H1000M1044 1122.5H1051M1095 1122.5H1100M417 957.5H423M983 1132.5H984M1526 1132.5H1527M1561 1132.5H1562M982 1133.5H983M1525 1133.5H1526M1562 1133.5H1563M1224 1182.5H1226M1233 1182.5H1240M1248 1182.5H1252M1467 1182.5H1473M1489 1182.5H1490M1109 1115.5H1111M1147 1115.5H1149M211 1025.5H212M296 1025.5H297M482 1025.5H483M853 1166.5H855M1190 1166.5H1191M1279 1166.5H1280M1696 1166.5H1698M394 917.5H396M372 909.5H383M572 1057.5H573M590 1057.5H592M646 1078.5H647M650 1078.5H651M653 1078.5H655M682 1078.5H684M694 1078.5H695M730 1078.5H731M575 1054.5H576M577 1054.5H578M583 1054.5H585M586 1054.5H587M995 1124.5H997M1052 1124.5H1053M1286 1159.5H1287M1438 1159.5H1439M1505 1159.5H1506M1624 1159.5H1626M1687 1159.5H1688M621 1071.5H622M639 1071.5H640M723 1071.5H724M1284 1161.5H1285M1440 1161.5H1446M1503 1161.5H1504M1602 1161.5H1622M1689 1161.5H1690M210 1026.5H211M221 1026.5H222M313 1026.5H314M483 1026.5H484M498 1026.5H505M1847 1214.5H1848M864 1152.5H868M1182 1152.5H1183M1302 1152.5H1303M1419 1152.5H1432M1579 1152.5H1580M1638 1152.5H1649M1674 1152.5H1681M809 1109.5H810M227 1018.5H228M229 1018.5H230M244 1018.5H245M250 1018.5H252M307 1018.5H308M437 977.5H438M1201 1177.5H1203M1208 1177.5H1210M1256 1177.5H1257M1708 1177.5H1709M876 1140.5H877M912 1140.5H913M972 1140.5H973M1084 1140.5H1085M1173 1140.5H1174M1332 1140.5H1339M1347 1140.5H1361M1518 1140.5H1519M1569 1140.5H1570M620 1070.5H621M622 1070.5H623M628 1070.5H630M215 1021.5H216M232 1021.5H233M292 1021.5H293M389 914.5H390M673 1081.5H675M698 1081.5H700M734 1081.5H736M746 1081.5H747M226 1019.5H227M230 1019.5H231M245 1019.5H246M248 1019.5H250M308 1019.5H309M872 1147.5H873M1313 1147.5H1314M1379 1147.5H1381M849 1164.5H851M1281 1164.5H1282M1585 1164.5H1600M1692 1164.5H1694M514 1030.5H515M403 933.5H404M752 1087.5H754M758 1087.5H759M1322 1144.5H1323M1375 1144.5H1376M1514 1144.5H1515M1573 1144.5H1574M1115 1111.5H1116M1118 1111.5H1120M1124 1111.5H1125M1141 1111.5H1142M1480 1192.5H1481M1736 1192.5H1737M1739 1192.5H1741M1750 1192.5H1752M1829 1192.5H1831M1854 1224.5H1865M369 912.5H370M387 912.5H388M793 1096.5H794M794 1097.5H795M561 1059.5H562M570 1059.5H571M594 1059.5H603M635 1075.5H636M643 1075.5H644M709 1075.5H711M727 1075.5H728M562 1060.5H563M881 1135.5H882M901 1135.5H902M979 1135.5H981M1523 1135.5H1524M1564 1135.5H1565M842 1156.5H844M860 1156.5H861M1295 1156.5H1296M1435 1156.5H1436M1508 1156.5H1509M1628 1156.5H1629M1684 1156.5H1685M1481 1193.5H1482M1735 1193.5H1736M1741 1193.5H1743M1748 1193.5H1750M1831 1193.5H1833M1865 1225.5H1867M637 1073.5H638M641 1073.5H642M721 1073.5H722M725 1073.5H726M485 1028.5H486M496 1028.5H497M506 1028.5H507M833 1143.5H834M914 1143.5H915M967 1143.5H968M1323 1143.5H1330M1365 1143.5H1375M1515 1143.5H1516M1572 1143.5H1573M878 1138.5H879M910 1138.5H911M974 1138.5H975M1171 1138.5H1172M1340 1138.5H1341M1343 1138.5H1345M1520 1138.5H1521M1567 1138.5H1568M1199 1178.5H1201M1210 1178.5H1212M1255 1178.5H1256M1709 1178.5H1710M997 1123.5H999M1051 1123.5H1052M453 999.5H454M970 1141.5H972M1174 1141.5H1175M1331 1141.5H1332M1361 1141.5H1363M1517 1141.5H1518M1570 1141.5H1571M768 1092.5H770M780 1092.5H781M551 1049.5H552M565 1063.5H566M610 1063.5H612M613 1063.5H614M992 1126.5H993M1055 1126.5H1057M1061 1126.5H1062M1064 1126.5H1066M1534 1126.5H1536M1537 1126.5H1538M835 1146.5H836M916 1146.5H917M1314 1146.5H1321M1377 1146.5H1379M1575 1146.5H1576M1258 1175.5H1259M1463 1175.5H1464M1706 1175.5H1707M228 1017.5H229M237 1017.5H244M252 1017.5H253M261 1017.5H262M516 1032.5H523M993 1125.5H995M1053 1125.5H1055M1062 1125.5H1064M1536 1125.5H1537M991 1127.5H992M1057 1127.5H1059M1060 1127.5H1061M1066 1127.5H1068M1532 1127.5H1534M1538 1127.5H1539M1777 1187.5H1779M1784 1187.5H1786M1817 1187.5H1818M863 1153.5H864M1183 1153.5H1184M1300 1153.5H1302M1432 1153.5H1433M1637 1153.5H1638M1681 1153.5H1682M795 1098.5H797M783 1095.5H793M254 1015.5H255M257 1015.5H259M263 1015.5H264M320 1015.5H322M466 1015.5H467M253 1016.5H254M259 1016.5H261M262 1016.5H263M322 1016.5H324M467 1016.5H468M566 1064.5H567M608 1064.5H610M614 1064.5H615M633 1077.5H634M645 1077.5H646M651 1077.5H653M684 1077.5H694M705 1077.5H707M729 1077.5H730M814 1117.5H815M1019 1117.5H1020M1036 1117.5H1037M1106 1117.5H1107M1150 1117.5H1151M527 1036.5H529M1478 1190.5H1479M1723 1190.5H1725M1826 1190.5H1827M573 1056.5H574M579 1056.5H581M588 1056.5H590M634 1076.5H635M644 1076.5H645M707 1076.5H709M728 1076.5H729M445 988.5H446M817 1120.5H818M1001 1120.5H1002M1040 1120.5H1042M1102 1120.5H1104M1154 1120.5H1156M456 1002.5H457M669 1083.5H671M738 1083.5H739M744 1083.5H745M574 1055.5H575M578 1055.5H579M581 1055.5H583M587 1055.5H588M1732 1195.5H1734M805 1105.5H806M667 1085.5H668M740 1085.5H741M742 1085.5H743M1223 1181.5H1224M1226 1181.5H1228M1232 1181.5H1233M1240 1181.5H1241M1246 1181.5H1248M1252 1181.5H1253M1714 1181.5H1716M806 1106.5H807M1260 1173.5H1267M1461 1173.5H1462M1704 1173.5H1705M415 955.5H416M815 1118.5H816M1018 1118.5H1019M1037 1118.5H1038M1105 1118.5H1106M1151 1118.5H1152M1113 1113.5H1114M1122 1113.5H1123M1143 1113.5H1145M862 1154.5H863M1184 1154.5H1185M1298 1154.5H1300M1433 1154.5H1434M1636 1154.5H1637M1682 1154.5H1683M556 1052.5H558M616 1066.5H617M617 1067.5H618M279 1008.5H280M277 1009.5H279M280 1009.5H281M1850 1217.5H1851M255 1014.5H257M264 1014.5H266M319 1014.5H320M465 1014.5H466M770 1091.5H772M779 1091.5H780M543 1044.5H545M392 916.5H394M1775 1186.5H1777M1786 1186.5H1788M1816 1186.5H1817M1734 1194.5H1735M1743 1194.5H1748M807 1107.5H808M797 1099.5H799M808 1108.5H809M619 1069.5H620M623 1069.5H624M626 1069.5H628M275 1010.5H277M281 1010.5H282M851 1165.5H853M1189 1165.5H1190M1280 1165.5H1281M1694 1165.5H1696M932 1167.5H933M1191 1167.5H1192M1275 1167.5H1279M1449 1167.5H1451M1698 1167.5H1699M1193 1169.5H1194M1271 1169.5H1273M1453 1169.5H1455M1700 1169.5H1701M668 1084.5H669M739 1084.5H740M743 1084.5H744M648 1080.5H649M675 1080.5H680M696 1080.5H698M732 1080.5H734M531 1038.5H536M554 1051.5H556M984 1131.5H986M1075 1131.5H1076M1527 1131.5H1528M1560 1131.5H1561M225 1020.5H226M231 1020.5H232M246 1020.5H248M291 1020.5H292M309 1020.5H310M430 970.5H431M1268 1171.5H1269M1459 1171.5H1460M1702 1171.5H1703M363 921.5H364M549 1047.5H550M606 1065.5H608M615 1065.5H616M515 1031.5H516M447 990.5H448M1283 1162.5H1284M1601 1162.5H1602M1690 1162.5H1691M458 1004.5H459M1846 1213.5H1847M671 1082.5H673M700 1082.5H702M736 1082.5H738M745 1082.5H746M803 1103.5H804M804 1104.5H805M449 992.5H450M781 1093.5H782M1837 1201.5H1838M484 1027.5H485M497 1027.5H498M505 1027.5H506M1838 1202.5H1839M1848 1215.5H1849M799 1100.5H801M1730 1196.5H1732M756 1089.5H757M774 1089.5H778M1282 1163.5H1283M1600 1163.5H1601M1691 1163.5H1692M542 1043.5H543M754 1088.5H756M757 1088.5H758M1267 1172.5H1268M1460 1172.5H1461M1703 1172.5H1704M536 1039.5H538M871 1148.5H872M1312 1148.5H1313M1381 1148.5H1383M1840 1204.5H1841M880 1136.5H881M902 1136.5H903M977 1136.5H979M1522 1136.5H1523M1565 1136.5H1566M1111 1114.5H1113M1145 1114.5H1147M214 1022.5H215M233 1022.5H234M293 1022.5H294M428 968.5H429M429 969.5H430M547 1046.5H549M1285 1160.5H1286M1439 1160.5H1440M1504 1160.5H1505M1622 1160.5H1624M1688 1160.5H1689M1869 1227.5H1879M525 1035.5H527M959 1158.5H960M1287 1158.5H1294M1437 1158.5H1438M1506 1158.5H1507M1626 1158.5H1627M1686 1158.5H1687M446 989.5H447M576 1053.5H577M585 1053.5H586M367 915.5H368M390 915.5H392M212 1024.5H213M295 1024.5H296M481 1024.5H482M448 991.5H449M545 1045.5H547M1192 1168.5H1193M1273 1168.5H1275M1451 1168.5H1453M1699 1168.5H1700M1836 1200.5H1837M540 1041.5H541M563 1061.5H564M541 1042.5H542M1728 1197.5H1730M454 1000.5H455M782 1094.5H783M550 1048.5H551M571 1058.5H572M592 1058.5H594M427 967.5H428M529 1037.5H531M523 1033.5H524M1259 1174.5H1260M1462 1174.5H1463M1705 1174.5H1706M433 973.5H434M434 974.5H435M444 987.5H445M552 1050.5H554M772 1090.5H774M778 1090.5H779M435 975.5H436M436 976.5H437M388 913.5H389M1841 1205.5H1842M401 930.5H402M802 1102.5H803M370 911.5H371M385 911.5H387M431 971.5H432M432 972.5H433M365 918.5H366M1849 1216.5H1850M438 978.5H439M439 979.5H440M440 980.5H441M455 1001.5H456M1839 1203.5H1840M414 954.5H415M801 1101.5H802" fill="none" stroke="#ff0000" stroke-width="1" shape-rendering="crispEdges"/>
<path d="M468.5 990V992M432.5 927V929M361.5 902V905M1212.5 1131V1133M1213.5 1133V1135M337.5 946V948M811.5 1070V1072M360.5 905V907M435.5 935V937M355.5 913V915M405.5 891V893M351.5 920V922M420.5 910V912M423.5 915V917M424.5 917V919M445.5 952V954M1214.5 1135V1137M350.5 922V924M363.5 897V899M346.5 928V930M434.5 932V935M422.5 913V915M362.5 899V902M345.5 930V932M447.5 955V957M444.5 950V952M342.5 938V940M407.5 895V897M359.5 907V909M449.5 958V960M406.5 893V895M459.5 975V977M1572.5 1122V1124M370.5 891V893M341.5 940V942M369.5 893V895M1574.5 1126V1128M442.5 944V947M1186.5 1109V1111M456.5 970V972M810.5 1068V1070M469.5 992V994M353.5 916V918M458.5 973V975M450.5 960V962M352.5 918V920M348.5 925V927M344.5 932V935M460.5 977V980M343.5 935V938M441.5 942V944M433.5 929V932M357.5 910V912M461.5 980V983M425.5 919V921M1573.5 1124V1126M1185.5 1107V1109M452.5 964V966M470.5 994V996M451.5 962V964M454.5 967V969M443.5 947V950M371.5 889V891M335.5 949V951M334.5 951V953M462.5 983V985M333.5 953V955M812.5 1072V1074M1187.5 1111V1113M418.5 907V909M339.5 943V945M813 1074.5H815M993 1074.5H1105M1125 1074.5H1136M1763 1160.5H1764M1775 1160.5H1777M1817 1160.5H1818M624 1029.5H640M840 1092.5H851M858 1092.5H878M936 1092.5H941M1167 1092.5H1168M819 1077.5H820M981 1077.5H991M1140 1077.5H1145M1851 1170.5H1870M372 888.5H374M399 888.5H401M1329 1110.5H1406M1512 1110.5H1514M1554 1110.5H1555M1188 1113.5H1190M1320 1113.5H1325M1410 1113.5H1424M1509 1113.5H1510M1557 1113.5H1559M230 961.5H232M326 961.5H327M579 1026.5H622M1192 1115.5H1194M1316 1115.5H1318M1426 1115.5H1428M1505 1115.5H1507M1561 1115.5H1563M1195 1117.5H1196M1309 1117.5H1311M1433 1117.5H1435M1502 1117.5H1503M1564 1117.5H1565M252 972.5H253M282 972.5H289M457 972.5H458M831 1086.5H833M954 1086.5H959M1158 1086.5H1159M219 957.5H226M330 957.5H331M448 957.5H449M1280 1133.5H1282M1462 1133.5H1464M1486 1133.5H1487M1583 1133.5H1584M1604 1133.5H1606M1691 1133.5H1692M1755 1158.5H1762M1779 1158.5H1816M378 885.5H383M390 885.5H397M1199 1121.5H1200M1303 1121.5H1304M1444 1121.5H1446M1498 1121.5H1499M1570 1121.5H1572M1278 1134.5H1280M1464 1134.5H1465M1485 1134.5H1486M1584 1134.5H1586M1599 1134.5H1604M1692 1134.5H1694M1205 1127.5H1206M1289 1127.5H1291M1453 1127.5H1455M1492 1127.5H1493M1622 1127.5H1624M1673 1127.5H1674M540 1014.5H545M642 1032.5H658M705 1032.5H739M1203 1125.5H1204M1293 1125.5H1294M1449 1125.5H1451M1494 1125.5H1495M1626 1125.5H1636M1662 1125.5H1672M894 1098.5H923M1173 1098.5H1174M507 1011.5H536M804 1065.5H806M815 1075.5H817M992 1075.5H993M1136 1075.5H1138M768 1044.5H775M1233 1149.5H1240M1257 1149.5H1258M1728 1149.5H1735M561 1020.5H568M1215 1137.5H1217M1275 1137.5H1276M1467 1137.5H1469M1482 1137.5H1483M1590 1137.5H1595M1698 1137.5H1699M1246 1154.5H1248M1249 1154.5H1250M1745 1154.5H1746M1221 1140.5H1222M1269 1140.5H1271M1473 1140.5H1478M1701 1140.5H1708M754 1037.5H756M1764 1161.5H1775M1818 1161.5H1829M1190 1114.5H1192M1318 1114.5H1320M1424 1114.5H1426M1507 1114.5H1509M1559 1114.5H1561M549 1017.5H559M1201 1123.5H1202M1295 1123.5H1296M1447 1123.5H1448M1496 1123.5H1497M1637 1123.5H1638M1658 1123.5H1660M828 1083.5H829M963 1083.5H968M1152 1083.5H1154M756 1038.5H761M1224 1143.5H1226M1266 1143.5H1267M1710 1143.5H1712M1226 1144.5H1228M1264 1144.5H1266M1712 1144.5H1714M226 958.5H227M329 958.5H330M559 1018.5H560M822 1080.5H824M972 1080.5H977M1149 1080.5H1150M1202 1124.5H1203M1294 1124.5H1295M1448 1124.5H1449M1495 1124.5H1496M1636 1124.5H1637M1660 1124.5H1662M839 1091.5H840M851 1091.5H853M857 1091.5H858M941 1091.5H943M1165 1091.5H1167M1204 1126.5H1205M1291 1126.5H1293M1451 1126.5H1453M1493 1126.5H1494M1624 1126.5H1626M1672 1126.5H1673M659 1034.5H660M703 1034.5H704M740 1034.5H741M1842 1167.5H1847M1872 1167.5H1879M1196 1118.5H1197M1307 1118.5H1309M1435 1118.5H1437M1501 1118.5H1502M1565 1118.5H1566M882 1095.5H892M927 1095.5H932M1170 1095.5H1171M1241 1151.5H1242M1253 1151.5H1255M1736 1151.5H1737M1276 1136.5H1277M1466 1136.5H1467M1483 1136.5H1484M1588 1136.5H1590M1595 1136.5H1597M1696 1136.5H1698M829 1084.5H830M961 1084.5H963M1154 1084.5H1156M660 1035.5H703M741 1035.5H752M1210 1130.5H1212M1285 1130.5H1286M1457 1130.5H1458M1489 1130.5H1490M1579 1130.5H1581M1613 1130.5H1615M1682 1130.5H1683M830 1085.5H831M959 1085.5H961M1156 1085.5H1158M227 959.5H228M328 959.5H329M1217 1138.5H1219M1273 1138.5H1275M1469 1138.5H1471M1480 1138.5H1482M1699 1138.5H1700M837 1089.5H838M855 1089.5H856M945 1089.5H950M1161 1089.5H1163M821 1079.5H822M977 1079.5H979M1147 1079.5H1149M1219 1139.5H1221M1271 1139.5H1273M1471 1139.5H1473M1478 1139.5H1480M1700 1139.5H1701M489 1008.5H505M1208 1129.5H1210M1286 1129.5H1287M1456 1129.5H1457M1490 1129.5H1491M1577 1129.5H1579M1615 1129.5H1617M1681 1129.5H1682M1183 1106.5H1185M1523 1106.5H1525M1547 1106.5H1548M545 1015.5H547M374 887.5H376M398 887.5H399M1197 1119.5H1198M1305 1119.5H1307M1437 1119.5H1442M1500 1119.5H1501M1566 1119.5H1568M347 927.5H348M1194 1116.5H1195M1311 1116.5H1316M1428 1116.5H1433M1503 1116.5H1505M1563 1116.5H1564M824 1081.5H826M970 1081.5H972M1150 1081.5H1151M1200 1122.5H1201M1296 1122.5H1303M1446 1122.5H1447M1497 1122.5H1498M1638 1122.5H1658M1106 1072.5H1107M1123 1072.5H1124M1179 1104.5H1181M1527 1104.5H1546M1174 1099.5H1175M234 963.5H239M318 963.5H325M228 960.5H230M327 960.5H328M1242 1152.5H1244M1251 1152.5H1253M1737 1152.5H1744M241 965.5H243M316 965.5H317M1198 1120.5H1199M1304 1120.5H1305M1442 1120.5H1444M1499 1120.5H1500M1568 1120.5H1570M1840 1166.5H1842M1240 1150.5H1241M1255 1150.5H1257M1735 1150.5H1736M1327 1111.5H1329M1406 1111.5H1408M1511 1111.5H1512M1555 1111.5H1556M1107 1071.5H1123M1206 1128.5H1208M1287 1128.5H1289M1455 1128.5H1456M1491 1128.5H1492M1575 1128.5H1577M1617 1128.5H1622M1674 1128.5H1681M1244 1153.5H1246M1250 1153.5H1251M1744 1153.5H1745M1228 1145.5H1230M1262 1145.5H1264M1714 1145.5H1716M752 1036.5H754M826 1082.5H828M968 1082.5H970M1151 1082.5H1152M254 974.5H255M280 974.5H281M243 966.5H244M300 966.5H316M453 966.5H454M835 1088.5H837M950 1088.5H952M1160 1088.5H1161M820 1078.5H821M979 1078.5H981M1145 1078.5H1147M838 1090.5H839M853 1090.5H855M856 1090.5H857M943 1090.5H945M1163 1090.5H1165M403 890.5H405M1277 1135.5H1278M1465 1135.5H1466M1484 1135.5H1485M1586 1135.5H1588M1597 1135.5H1599M1694 1135.5H1696M385 883.5H387M388 883.5H389M1518 1107.5H1523M1548 1107.5H1550M259 977.5H261M271 977.5H272M1833 1164.5H1838M376 886.5H378M397 886.5H398M356 912.5H357M421 912.5H422M1838 1165.5H1840M475 998.5H477M1230 1146.5H1231M1260 1146.5H1262M1716 1146.5H1726M248 970.5H250M290 970.5H291M538 1013.5H540M467 989.5H468M893 1097.5H894M923 1097.5H925M1172 1097.5H1173M218 956.5H219M331 956.5H332M438 939.5H439M261 978.5H271M761 1039.5H763M1282 1132.5H1284M1460 1132.5H1462M1487 1132.5H1488M1582 1132.5H1583M1606 1132.5H1608M1690 1132.5H1691M1222 1141.5H1223M1268 1141.5H1269M1708 1141.5H1709M255 975.5H257M273 975.5H280M430 925.5H431M1284 1131.5H1285M1458 1131.5H1460M1488 1131.5H1489M1581 1131.5H1582M1608 1131.5H1613M1683 1131.5H1690M250 971.5H252M289 971.5H290M210 954.5H217M446 954.5H447M1231 1147.5H1232M1259 1147.5H1260M1726 1147.5H1727M473 997.5H475M1762 1159.5H1763M1777 1159.5H1779M1816 1159.5H1817M440 941.5H441M1232 1148.5H1233M1258 1148.5H1259M1727 1148.5H1728M354 915.5H355M1248 1155.5H1249M1746 1155.5H1753M536 1012.5H538M245 968.5H246M298 968.5H299M340 942.5H341M409 898.5H410M1829 1162.5H1831M799 1061.5H801M1325 1112.5H1327M1408 1112.5H1410M1510 1112.5H1511M1556 1112.5H1557M1175 1100.5H1176M484 1004.5H486M463 985.5H464M1514 1109.5H1516M1552 1109.5H1554M387 882.5H388M478 1000.5H479M1181 1105.5H1183M1525 1105.5H1527M1546 1105.5H1547M788 1054.5H790M833 1087.5H835M952 1087.5H954M1159 1087.5H1160M412 901.5H413M426 921.5H427M808 1067.5H810M783 1050.5H784M560 1019.5H561M817 1076.5H819M991 1076.5H992M1138 1076.5H1140M487 1006.5H488M465 987.5H466M488 1007.5H489M878 1093.5H880M934 1093.5H936M1168 1093.5H1169M436 937.5H437M437 938.5H438M623 1028.5H624M232 962.5H234M325 962.5H326M253 973.5H254M281 973.5H282M1105 1073.5H1106M1124 1073.5H1125M336 948.5H337M482 1003.5H484M641 1031.5H642M428 923.5H429M217 955.5H218M332 955.5H333M1516 1108.5H1518M1550 1108.5H1552M349 924.5H350M429 924.5H430M793 1057.5H794M892 1096.5H893M925 1096.5H927M1171 1096.5H1172M1754 1157.5H1755M471 996.5H473M806 1066.5H808M802 1063.5H803M776 1046.5H777M795 1059.5H797M777 1047.5H779M257 976.5H259M272 976.5H273M1177 1102.5H1178M1178 1103.5H1179M383 884.5H385M389 884.5H390M364 897.5H365M408 897.5H409M480 1002.5H482M658 1033.5H659M704 1033.5H705M739 1033.5H740M797 1060.5H799M244 967.5H245M299 967.5H300M880 1094.5H882M932 1094.5H934M1169 1094.5H1170M358 909.5H359M419 909.5H420M246 969.5H248M291 969.5H298M455 969.5H456M570 1023.5H577M1223 1142.5H1224M1267 1142.5H1268M1709 1142.5H1710M414 903.5H415M477 999.5H478M410 899.5H411M781 1049.5H783M439 940.5H440M416 905.5H417M547 1016.5H549M417 906.5H418M486 1005.5H487M1847 1168.5H1849M1871 1168.5H1872M505 1009.5H506M367 895.5H369M640 1030.5H641M427 922.5H428M790 1055.5H792M792 1056.5H793M239 964.5H241M317 964.5H318M1753 1156.5H1754M779 1048.5H781M506 1010.5H507M1831 1163.5H1833M801 1062.5H802M577 1024.5H578M775 1045.5H776M578 1025.5H579M1176 1101.5H1177M479 1001.5H480M413 902.5H414M1849 1169.5H1851M1870 1169.5H1871M784 1051.5H785M803 1064.5H804M785 1052.5H786M763 1040.5H765M568 1021.5H569M338 945.5H339M415 904.5H416M794 1058.5H795M786 1053.5H788M767 1043.5H768M365 896.5H367M431 926.5H432M401 889.5H403M464 986.5H465M622 1027.5H623M411 900.5H412M466 988.5H467M765 1041.5H766M766 1042.5H767M569 1022.5H570" fill="none" stroke="#0000ff" stroke-width="1" shape-rendering="crispEdges"/>
<rect x="210.5" y="141.5" width="1668.0" height="1134.0" fill="none" stroke="#000" stroke-width="1" shape-rendering="crispEdges"/>
<path d="M255.5 1275.5v-18 M300.5 1275.5v-18 M345.5 1275.5v-18 M390.5 1275.5v-36 M435.5 1275.5v-18 M480.5 1275.5v-18 M525.5 1275.5v-18 M570.5 1275.5v-18 M615.5 1275.5v-36 M660.5 1275.5v-18 M705.5 1275.5v-18 M750.5 1275.5v-18 M795.5 1275.5v-18 M840.5 1275.5v-36 M885.5 1275.5v-18 M930.5 1275.5v-18 M975.5 1275.5v-18 M1020.5 1275.5v-18 M1065.5 1275.5v-36 M1110.5 1275.5v-18 M1155.5 1275.5v-18 M1200.5 1275.5v-18 M1245.5 1275.5v-18 M1290.5 1275.5v-36 M1335.5 1275.5v-18 M1380.5 1275.5v-18 M1425.5 1275.5v-18 M1470.5 1275.5v-18 M1515.5 1275.5v-36 M1560.5 1275.5v-18 M1605.5 1275.5v-18 M1650.5 1275.5v-18 M1695.5 1275.5v-18 M1740.5 1275.5v-36 M1785.5 1275.5v-18 M1830.5 1275.5v-18 M1875.5 1275.5v-18 M210.5 1263.5h24 M210.5 1227.5h48 M210.5 1191.5h24 M210.5 1152.5h24 M210.5 1116.5h24 M210.5 1080.5h24 M210.5 1044.5h48 M210.5 1005.5h24 M210.5 969.5h24 M210.5 933.5h24 M210.5 894.5h24 M210.5 858.5h48 M210.5 822.5h24 M210.5 786.5h24 M210.5 747.5h24 M210.5 711.5h24 M210.5 675.5h48 M210.5 639.5h24 M210.5 600.5h24 M210.5 564.5h24 M210.5 528.5h24 M210.5 489.5h48 M210.5 453.5h24 M210.5 417.5h24 M210.5 381.5h24 M210.5 342.5h24 M210.5 306.5h48 M210.5 270.5h24 M210.5 231.5h24 M210.5 195.5h24 M210.5 159.5h24" stroke="#000" stroke-width="1" fill="none" stroke-linecap="square" shape-rendering="crispEdges"/>
<text transform="translate(390.0 1321) scale(0.98 1)" font-size="47.5" text-anchor="middle">3500</text>
<text transform="translate(615.0 1321) scale(0.98 1)" font-size="47.5" text-anchor="middle">3550</text>
<text transform="translate(840.0 1321) scale(0.98 1)" font-size="47.5" text-anchor="middle">3600</text>
<text transform="translate(1065.0 1321) scale(0.98 1)" font-size="47.5" text-anchor="middle">3650</text>
<text transform="translate(1290.0 1321) scale(0.98 1)" font-size="47.5" text-anchor="middle">3700</text>
<text transform="translate(1515.0 1321) scale(0.98 1)" font-size="47.5" text-anchor="middle">3750</text>
<text transform="translate(1740.0 1321) scale(0.98 1)" font-size="47.5" text-anchor="middle">3800</text>
<text transform="translate(199.5 1245.5) scale(0.98 1)" font-size="47.5" text-anchor="end">200</text>
<text transform="translate(199.5 1062.5) scale(0.98 1)" font-size="47.5" text-anchor="end">250</text>
<text transform="translate(199.5 876.5) scale(0.98 1)" font-size="47.5" text-anchor="end">300</text>
<text transform="translate(199.5 693.5) scale(0.98 1)" font-size="47.5" text-anchor="end">350</text>
<text transform="translate(199.5 507.5) scale(0.98 1)" font-size="47.5" text-anchor="end">400</text>
<text transform="translate(199.5 324.5) scale(0.98 1)" font-size="47.5" text-anchor="end">450</text>
<text x="1036.4" y="68.7" font-size="68.04" text-anchor="middle">Estimation of background with noise</text>
<rect x="1629.5" y="93.5" width="417" height="225" fill="#fff" stroke="#000" stroke-width="1" shape-rendering="crispEdges"/>
<path d="M1629.5 150.5H2046.5" stroke="#000" stroke-width="1" shape-rendering="crispEdges"/>
<text transform="translate(1836.3 138) scale(0.96 1)" font-size="48" text-anchor="middle">back1</text>
<text x="1650" y="195" font-size="48" text-anchor="start">Entries</text>
<text x="2025.8" y="195" font-size="48" text-anchor="end">4096</text>
<text x="1650" y="252" font-size="48" text-anchor="start">Mean</text>
<text x="2025.8" y="252" font-size="48" text-anchor="end">3637</text>
<text x="1650" y="309" font-size="48" text-anchor="start">Std Dev</text>
<text x="2025.8" y="309" font-size="48" text-anchor="end">108</text>
</svg></body></html>
